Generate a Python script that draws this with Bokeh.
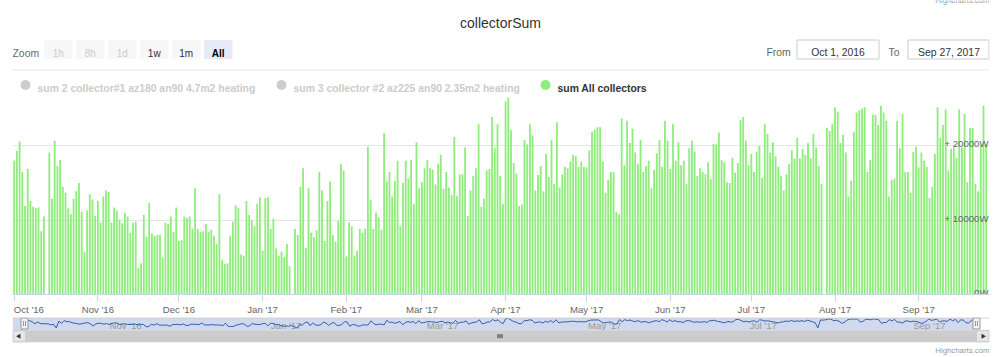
import math
import pandas as pd
from bokeh.plotting import figure
from bokeh.layouts import column
from bokeh.models import Range1d, FixedTicker, MonthsTicker, DatetimeTickFormatter
from bokeh.core.properties import value
from bokeh.embed import file_html
from bokeh.resources import INLINE

# ---------------- data ----------------
title_text = "collectorSum"
start_date = "2016-10-01"
series_names = [
    "sum 2 collector#1 az180 an90 4.7m2 heating",
    "sum 3 collector #2 az225 an90 2.35m2 heating",
    "sum All collectors",
]
series_visible = [False, False, True]

# daily sum of all collectors (W), Oct 1 2016 onward
collector_sum_w = [
    18000, 19300, 20600, 16500, 11900, 16900, 12600, 11800, 11600, 11700,
    8500, 10500, 0, 19100, 12900, 20700, 17300, 18100, 14500, 13700,
    11600, 10800, 12900, 13900, 15000, 11100, 5700, 11300, 13500, 12800,
    10600, 12600, 9700, 13200, 14000, 13800, 9700, 11700, 11300, 10100,
    9600, 11000, 10500, 8300, 9700, 9800, 3600, 4200, 10700, 7800,
    12300, 8200, 7900, 8000, 8000, 4900, 9700, 9500, 10500, 8400,
    11700, 7200, 7300, 10500, 10300, 10500, 8900, 14300, 8800, 8400,
    8500, 9500, 8400, 8700, 7900, 6800, 13500, 4600, 4100, 4200,
    7900, 9800, 12000, 11600, 5400, 5200, 12600, 10700,
    10000, 9200, 12200, 13100, 5900, 13000, 13100, 8800, 10200, 6200,
    5200, 5800, 5000, 6800, 3800, 0, 8800, 8000, 14500, 17000,
    6300, 14300, 8300, 7700, 8600, 16500, 14000, 7200, 12600, 15200,
    8000, 7100, 9900, 17600, 16700, 5100, 9700, 9200, 5200, 5900,
    8800, 8300, 8900, 19900, 12700, 8800, 11000, 10400, 8700, 21700,
    15200, 16500, 13200, 15300, 18000, 9200, 15000, 18000, 15600, 18100,
    12200, 20500, 14300, 15100, 17000, 18100, 17000, 16800, 14800, 17600,
    18800, 14200, 16500, 14400, 13400, 21200, 13300, 16200, 16200, 19800,
    10600, 14000, 15900, 17000, 22900, 11800, 12900, 16700, 16900, 23900,
    19700, 22900,
    15900, 12200, 26000, 26500, 22100, 17700, 16300, 11900, 12100, 20800,
    20200, 22900, 21400, 14000, 16100, 17300, 13900, 18900, 15800, 20800,
    14900, 23200, 14400, 16200, 17200, 17000, 17900, 18800, 18600, 17200,
    17900, 17200, 17100, 19400, 21900, 22200, 22500, 22500, 17900, 13700,
    15400, 16500, 16500, 11100, 10800, 23700, 17400, 23400, 20400, 22300,
    19100, 17600, 20800, 16500, 17300, 18000, 14300, 16800, 19000, 20800,
    17200, 23400, 20700, 16900, 22900, 18000, 20500, 17400, 18000, 14900,
    19700, 20700, 19200, 15900, 17000, 16500, 16200, 17800, 15500, 20300,
    20200, 21800, 18100, 17800, 15100, 15000, 18400, 16400, 17700, 23500,
    23900, 20700, 17400,
    18900, 16500, 19200, 20000, 15700, 22900, 21600, 19100, 20500, 18600,
    17200, 15900, 14000, 16200, 17600, 19400, 18300, 21100, 18300, 19600,
    18800, 20400, 18300, 21600, 19800, 17300, 14900, 0, 22400, 22000,
    22900, 25200, 24600, 20400, 21500, 19100, 13200, 15300, 21900, 24500,
    24800, 25000, 25200, 16500, 18100, 24200, 24200, 22800, 25400, 24500,
    23400, 13200, 15400, 15600, 23400, 19700, 24300, 16500, 16500, 13700,
    19200, 19900, 17100, 19100, 18000, 17200, 13000, 14500, 18900, 25200,
    21100, 22800, 24900, 16700, 19600, 19800, 18400, 24900, 19800, 24300,
    15100, 22400, 22400, 14900, 13900, 20200, 25400, 20200,
]

y_ticks = [0, 10000, 20000]
y_tick_labels = ["0W", "+ 10000W", "+ 20000W"]
first_x_label = "Oct '16"
nav_label_dates = ["2016-11-01", "2017-01-01", "2017-03-01", "2017-05-01", "2017-07-01", "2017-09-01"]
nav_labels = ["Nov '16", "Jan '17", "Mar '17", "May '17", "Jul '17", "Sep '17"]
zoom_buttons = ["1h", "8h", "1d", "1w", "1m", "All"]
zoom_enabled = [False, False, False, True, True, True]
zoom_selected = "All"
range_from = "Oct 1, 2016"
range_to = "Sep 27, 2017"

# ---------------- helpers ----------------
FONT = value("Liberation Sans")
DAY = 86400000.0
dates = pd.date_range(start_date, periods=len(collector_sum_w), freq="D")
t0 = pd.Timestamp(start_date).timestamp() * 1000.0
n_days = len(collector_sum_w)
nav_dates = [pd.Timestamp(d) for d in nav_label_dates]

GREEN = "#90ed7d"
LB, RB = 12, 11          # common left / right borders -> frames span page x 12..989
FX0, FX1 = LB, 1000 - RB

common = dict(toolbar_location=None, output_backend="svg", outline_line_color=None,
              min_border_left=LB, min_border_right=RB, title=None)

# ---------------- header ----------------
HH = 99
SHIFT = 4
h = figure(frame_width=FX1 - FX0, frame_height=HH - SHIFT, x_range=Range1d(FX0, FX1),
           y_range=Range1d(HH, SHIFT),
           x_axis_location=None, y_axis_location=None, min_border_top=0, min_border_bottom=0, **common)
h.grid.visible = False

h.text(x=[989], y=[3.5], text=["Highcharts.com"], text_font=FONT, text_font_size="7.8px",
       text_color="#999999", text_align="right", text_baseline="alphabetic")
h.text(x=[500], y=[26.5], text=[title_text], text_font=FONT, text_font_size="14px",
       text_color="#333333", text_align="center", text_baseline="alphabetic")
h.text(x=[12], y=[56.5], text=["Zoom"], text_font=FONT, text_font_size="10.4px",
       text_color="#666666", text_align="left", text_baseline="alphabetic")

b_left = [43.5 + 32 * i for i in range(len(zoom_buttons))]
b_right = [l + 28.5 for l in b_left]
b_fill = ["#e6ebf5" if b == zoom_selected else "#f7f7f7" for b in zoom_buttons]
h.quad(left=b_left, right=b_right, top=[43.5] * 6, bottom=[62.5] * 6,
       fill_color=b_fill, line_color=None)
b_center = [(l + r) / 2 for l, r in zip(b_left, b_right)]
b_color = ["#000000" if b == zoom_selected else ("#333333" if e else "#cccccc")
           for b, e in zip(zoom_buttons, zoom_enabled)]
b_style = ["bold" if b == zoom_selected else "normal" for b in zoom_buttons]
h.text(x=b_center, y=[56.5] * 6, text=zoom_buttons, text_font=FONT, text_font_size="10px",
       text_color=b_color, text_font_style=b_style, text_align="center", text_baseline="alphabetic")

h.text(x=[766, 888], y=[56, 56], text=["From", "To"], text_font=FONT, text_font_size="10.4px",
       text_color="#666666", text_align="left", text_baseline="alphabetic")
h.quad(left=[796.5, 907.5], right=[878.5, 988.5], top=[43.5, 43.5], bottom=[62.5, 62.5],
       fill_color="white", line_color="#cccccc", line_width=1)
h.text(x=[837.5, 948.5], y=[56, 56], text=[range_from, range_to], text_font=FONT,
       text_font_size="10.4px", text_color="#333333", text_align="center", text_baseline="alphabetic")

h.segment(x0=[12], y0=[73.5], x1=[989], y1=[73.5], line_color="#e6e6e6", line_width=1)

leg_x = [25, 281, 545]
leg_col = [GREEN if v else "#cccccc" for v in series_visible]
h.scatter(x=leg_x, y=[88.5] * 3, size=10, marker="circle", fill_color=leg_col, line_color=None)
h.text(x=[x + 12 for x in leg_x], y=[92] * 3, text=series_names, text_font=FONT,
       text_font_size="10.4px", text_font_style="bold",
       text_color=["#333333" if v else "#cccccc" for v in series_visible],
       text_align="left", text_baseline="alphabetic")

# ---------------- main chart ----------------
PX_DAY = 2.7
FRAME_W = FX1 - FX0
x_start = t0 - (1.7 / PX_DAY) * DAY
x_end = x_start + FRAME_W / PX_DAY * DAY
Y_MAX = 26650

p = figure(frame_width=FRAME_W, frame_height=198, x_axis_type="datetime",
           x_range=Range1d(x_start, x_end), y_range=Range1d(0, Y_MAX),
           y_axis_location=None, min_border_top=1, min_border_bottom=0, **common)
p.xgrid.visible = False
p.ygrid.ticker = FixedTicker(ticks=y_ticks)
p.ygrid.grid_line_color = "#e6e6e6"

p.vbar(x=dates, top=collector_sum_w, bottom=0, width=0.68 * DAY,
       fill_color=GREEN, line_color=None)

p.text(x=[x_end] * len(y_ticks), y=y_ticks, text=y_tick_labels, text_font=FONT,
       text_font_size="9.6px", text_color="#666666", text_align="right",
       text_baseline="alphabetic", x_offset=-1, y_offset=-2)

ax = p.xaxis[0]
ax.ticker = MonthsTicker(months=list(range(12)))
ax.formatter = DatetimeTickFormatter(months="%b '%y", days="%b '%y", years="%b '%y")
# first label kept inside the chart, as Highcharts does (padded with no-break spaces)
ax.major_label_overrides = {int(t0): "\u00a0" * 5 + first_x_label}
ax.axis_line_color = "#ccd6eb"
ax.major_tick_line_color = "#ccd6eb"
ax.major_tick_out = 7
ax.major_tick_in = 0
ax.minor_tick_line_color = None
ax.major_label_standoff = 2
ax.major_label_text_font = "Liberation Sans"
ax.major_label_text_font_size = "9.6px"
ax.major_label_text_color = "#666666"

# ---------------- navigator + scrollbar ----------------
NH = 39
nav = figure(frame_width=FX1 - FX0, frame_height=NH, x_range=Range1d(FX0, FX1), y_range=Range1d(NH, 0),
             x_axis_location=None, y_axis_location=None, min_border_top=0, min_border_bottom=0, **common)
nav.grid.visible = False
NAV_PX_DAY = (976 - 24) / (n_days - 1)
nx_start = t0 - (24 - FX0) / NAV_PX_DAY * DAY
nx_end = nx_start + (FX1 - FX0) / NAV_PX_DAY * DAY
per_px = 2789.5
nav.extra_x_ranges = {"navx": Range1d(nx_start, nx_end)}
nav.extra_y_ranges = {"navy": Range1d(-(NH - 10.5) * per_px, 10.5 * per_px)}

# selected-range mask
nav.quad(left=[12], right=[977], top=[0], bottom=[12.7], fill_color="#6685c2",
         fill_alpha=0.3, line_color=None)
# tick lines + labels
nav.segment(x0=nav_dates, y0=[0] * 6, x1=nav_dates, y1=[12.7] * 6, x_range_name="navx",
            line_color="#d8dce6", line_width=1)
nav.text(x=nav_dates, y=[8.3] * 6, text=nav_labels, x_range_name="navx", text_font=FONT,
         text_font_size="9.6px", text_color="#999999", text_align="left",
         text_baseline="alphabetic", x_offset=3)
# navigator series
nav.line(x=dates, y=collector_sum_w, x_range_name="navx", y_range_name="navy",
         line_color="#335cad", line_width=1)
# outline
nav.segment(x0=[12], y0=[0.5], x1=[989], y1=[0.5], line_color="#cccccc", line_width=1)
# handles
for hx in (24, 976):
    nav.quad(left=[hx - 3.5], right=[hx + 3.5], top=[0.5], bottom=[11.5],
             fill_color="#f2f2f2", line_color="#999999", line_width=1)
    nav.segment(x0=[hx - 1, hx + 1], y0=[3.5, 3.5], x1=[hx - 1, hx + 1], y1=[8.5, 8.5],
                line_color="#999999", line_width=1)
# scrollbar
nav.quad(left=[12], right=[989], top=[12.7], bottom=[24.7], fill_color="#cccccc", line_color=None)
nav.quad(left=[12.5, 976], right=[25, 988.5], top=[13.2, 13.2], bottom=[24.2, 24.2],
         fill_color="#e6e6e6", line_color="#cccccc", line_width=1)
nav.scatter(x=[18.5, 982.5], y=[18.7, 18.7], marker="triangle", size=5,
            angle=[math.pi / 2, -math.pi / 2], fill_color="#333333", line_color=None)
nav.segment(x0=[497.5, 499.5, 501.5], y0=[16.7] * 3, x1=[497.5, 499.5, 501.5], y1=[20.7] * 3,
            line_color="#333333", line_width=1)
# credits
nav.text(x=[989], y=[33], text=["Highcharts.com"], text_font=FONT, text_font_size="7.8px",
         text_color="#999999", text_align="right", text_baseline="alphabetic")

layout = column(h, p, nav, spacing=0)
open("out.html", "w").write(file_html(layout, INLINE))
